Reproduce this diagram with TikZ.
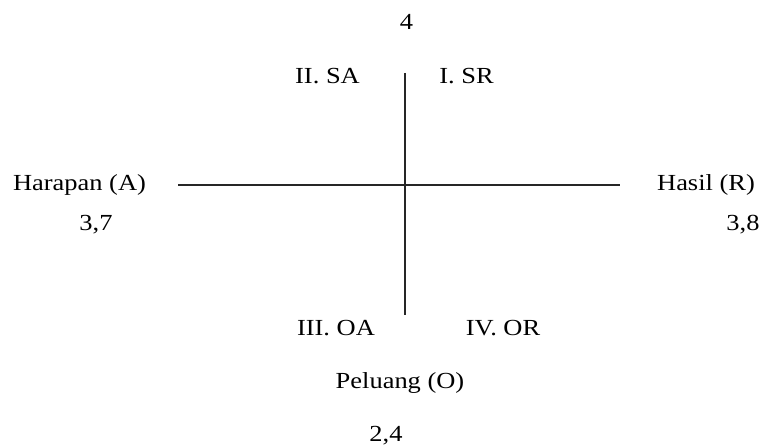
\documentclass[tikz,border=0pt]{standalone}
\usepackage{fontspec}
\setmainfont[FakeStretch=1.15]{Liberation Serif}
\begin{document}
\begin{tikzpicture}[x=1pt,y=-1pt,
  lbl/.style={inner sep=0pt,font=\fontsize{23}{27}\selectfont},
  axis/.style={line width=1.1pt,black!85}]
\useasboundingbox (0,0) rectangle (761,446);
% quadrant labels and scores
\node[lbl] (top) at (406.5,22) {4};
\node[lbl] (q2) at (327.5,76) {II. SA};
\node[lbl] (q1) at (466.5,76) {I. SR};
\node[lbl] (ha) at (79.5,185) {Harapan (A)};
\node[lbl] (hav) at (96,225) {3,7};
\node[lbl] (hr) at (706,185) {Hasil (R)};
\node[lbl] (hrv) at (743,225) {3,8};
\node[lbl] (q3) at (336,328) {III. OA};
\node[lbl] (q4) at (503,328) {IV. OR};
\node[lbl] (po) at (400,383) {Peluang (O)};
\node[lbl] (pov) at (386,436) {2,4};
% axes
\coordinate (vt) at (405,73);
\coordinate (vb) at (405,315);
\coordinate (hl) at (178,185);
\coordinate (hrt) at (620,185);
\draw[axis] (vt) -- (vb);
\draw[axis] (hl) -- (hrt);
\end{tikzpicture}
\end{document}
